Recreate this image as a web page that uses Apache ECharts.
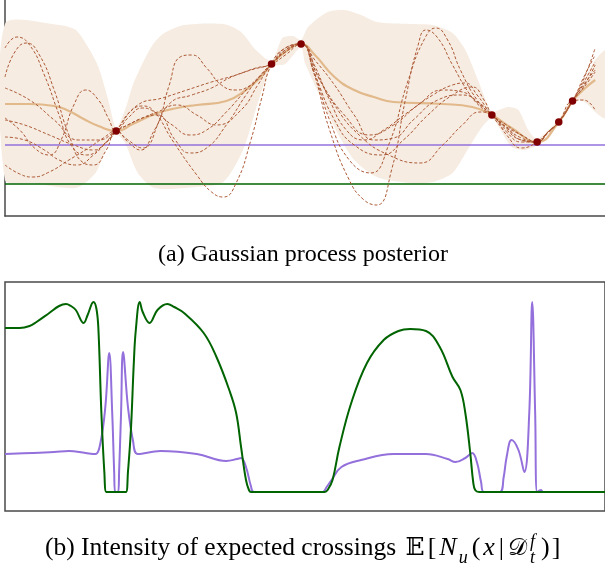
<!DOCTYPE html>
<html>
<head>
<meta charset="utf-8">
<script src="https://cdn.jsdelivr.net/npm/echarts@6/dist/echarts.min.js"></script>
<style>
html, body { margin: 0; padding: 0; background: #fff; }
#chart { width: 605px; height: 573px; }
</style>
</head>
<body>
<div id="chart"></div>
<script>
// x runs 0..610 across both panels, top panel y 0..21.6, bottom panel y -1.9..21

// (a) GP posterior
var levelPurple = 7.1;
var levelGreen = 3.2;

var observations = [[113, 8.5], [271, 15.2], [301, 17.2], [495, 10.1], [541, 7.4], [563, 9.4], [577, 11.5]];

var posteriorMean = [[0, 11.2], [25, 11.2], [50, 11.0], [65, 10.5], [80, 9.7], [95, 9.0], [113, 8.5], [130, 9.2],
    [155, 10.3], [175, 10.8], [195, 11.1], [225, 11.5], [245, 12.6], [260, 13.9], [271, 15.2], [285, 16.4],
    [301, 17.2], [315, 16.1], [335, 13.9], [355, 12.6], [375, 11.9], [395, 11.4], [445, 11.2], [475, 10.9],
    [495, 10.1], [515, 8.8], [541, 7.4], [563, 9.4], [577, 11.5], [590, 12.8], [600, 13.6]];

var bandUpper = [[0, 19.2], [55, 19.1], [72, 18.6], [85, 16.8], [95, 14.9], [105, 11.6], [113, 8.8], [122, 10.6],
    [130, 13.1], [138, 14.9], [150, 17.1], [162, 18.3], [182, 19.1], [222, 19.2], [240, 18.4], [255, 16.6],
    [271, 15.5], [282, 17.8], [293, 18.0], [301, 17.6], [308, 18.9], [328, 20.4], [345, 20.6], [362, 20.1],
    [378, 19.4], [412, 19.2], [435, 19.1], [455, 18.3], [468, 16.6], [482, 13.3], [492, 10.8], [496, 10.4],
    [502, 10.6], [512, 10.9], [522, 10.6], [532, 8.6], [541, 7.7], [563, 9.7], [577, 11.8], [585, 13.0],
    [593, 14.4], [600, 15.6], [610, 16.5]];

var bandLower = [[0, 3.6], [28, 3.3], [72, 2.8], [92, 4.3], [105, 7.3], [113, 8.2], [122, 7.3], [135, 4.3],
    [152, 2.8], [195, 2.9], [222, 3.4], [242, 6.6], [258, 11.6], [271, 14.9], [285, 15.2], [301, 16.9],
    [305, 15.3], [322, 11.6], [338, 8.3], [355, 5.6], [378, 3.9], [412, 3.3], [435, 3.4], [455, 4.3],
    [472, 6.9], [485, 8.9], [495, 9.8], [502, 8.9], [515, 6.9], [528, 6.6], [538, 6.9], [541, 7.1],
    [563, 9.1], [577, 11.2], [585, 11.6], [593, 11.1], [600, 10.4], [610, 9.8]];

var sample1 = [[0, 16.8], [12, 17.9], [25, 17.1], [40, 14.1], [55, 10.1], [67, 7.1], [83, 6.1], [100, 7.1],
    [113, 8.5], [127, 10.4], [140, 11.0], [152, 10.4], [170, 7.6], [195, 4.1], [210, 2.4], [222, 1.9],
    [235, 3.3], [250, 7.6], [261, 11.8], [271, 15.2], [285, 16.8], [301, 17.2], [313, 14.6], [330, 8.6],
    [350, 3.6], [365, 1.6], [378, 1.1], [393, 4.6], [407, 11.6], [420, 17.1], [428, 18.6], [440, 17.8],
    [455, 15.1], [473, 12.1], [487, 10.6], [495, 10.1], [510, 8.6], [525, 7.6], [541, 7.4], [552, 8.3],
    [563, 9.4], [577, 11.5], [588, 13.1], [600, 14.6]];
var sample2 = [[0, 13.9], [10, 16.4], [22, 17.3], [35, 16.1], [50, 12.6], [65, 8.1], [80, 5.3], [90, 5.1],
    [103, 6.6], [113, 8.5], [125, 7.6], [140, 6.8], [155, 9.1], [167, 13.1], [178, 15.9], [190, 16.1],
    [205, 14.8], [220, 13.1], [235, 12.6], [250, 13.1], [261, 14.1], [271, 15.2], [285, 16.8], [301, 17.2],
    [313, 14.8], [330, 9.6], [350, 5.6], [372, 4.3], [390, 7.1], [410, 13.6], [427, 17.8], [438, 18.8],
    [450, 17.6], [463, 14.6], [480, 11.6], [495, 10.1], [510, 9.1], [525, 8.1], [541, 7.4], [552, 8.4],
    [563, 9.4], [577, 11.5], [588, 13.8], [600, 16.1]];
var sample3 = [[0, 9.8], [15, 8.6], [30, 6.8], [45, 6.1], [57, 7.6], [70, 11.1], [82, 12.6], [95, 11.6],
    [105, 9.8], [113, 8.5], [125, 9.8], [140, 10.8], [152, 10.4], [170, 9.1], [188, 8.1], [205, 8.6],
    [225, 10.4], [245, 12.6], [260, 14.1], [271, 15.2], [285, 16.6], [301, 17.2], [313, 15.4], [330, 11.6],
    [347, 8.6], [365, 7.6], [385, 8.6], [410, 10.4], [435, 12.1], [455, 13.1], [468, 13.3], [480, 12.1],
    [495, 10.1], [510, 8.8], [525, 7.8], [541, 7.4], [552, 8.4], [563, 9.4], [577, 11.5], [588, 13.3],
    [600, 15.4]];
var sample4 = [[0, 7.9], [20, 7.6], [40, 6.6], [55, 5.6], [73, 5.1], [90, 6.1], [103, 7.4], [113, 8.5],
    [125, 9.1], [140, 9.8], [155, 10.1], [173, 7.6], [188, 6.3], [205, 6.8], [225, 9.1], [245, 12.1],
    [260, 14.1], [271, 15.2], [285, 16.4], [301, 17.2], [315, 14.1], [335, 9.6], [355, 7.1], [383, 6.1],
    [405, 7.6], [430, 10.1], [455, 12.1], [475, 12.9], [487, 11.6], [495, 10.1], [510, 8.4], [525, 7.4],
    [541, 7.4], [552, 8.4], [563, 9.4], [577, 11.5], [588, 11.6], [600, 10.6]];
var sample5 = [[0, 5.1], [15, 4.2], [28, 3.9], [45, 4.4], [65, 5.6], [85, 6.8], [100, 7.8], [113, 8.5],
    [125, 7.4], [138, 6.6], [152, 8.6], [168, 11.3], [190, 12.1], [210, 12.8], [228, 13.8], [250, 14.6],
    [271, 15.2], [285, 16.1], [301, 17.2], [315, 14.6], [335, 11.1], [360, 8.1], [390, 6.1], [422, 5.3],
    [445, 7.1], [465, 9.1], [483, 10.4], [495, 10.1], [510, 8.1], [525, 6.8], [541, 7.4], [552, 8.4],
    [563, 9.4], [577, 11.5], [588, 13.6], [600, 16.8]];
var sample6 = [[0, 9.6], [20, 9.1], [45, 8.1], [70, 7.1], [90, 6.6], [103, 7.4], [113, 8.5], [135, 11.1],
    [160, 11.8], [185, 12.6], [210, 13.4], [235, 14.1], [255, 14.8], [271, 15.2], [285, 16.6], [301, 17.2],
    [320, 13.6], [345, 10.1], [370, 8.1], [395, 9.1], [420, 11.1], [445, 12.6], [465, 12.4], [483, 11.1],
    [495, 10.1], [510, 8.9], [525, 8.1], [541, 7.4], [552, 8.4], [563, 9.4], [577, 11.5], [588, 12.9],
    [600, 15.1]];
var sample7 = [[0, 12.8], [25, 11.6], [50, 9.6], [75, 7.6], [95, 7.6], [113, 8.5], [135, 9.6], [155, 10.4],
    [175, 11.1], [195, 10.1], [215, 9.1], [240, 10.6], [257, 13.1], [271, 15.2], [285, 16.4], [301, 17.2],
    [315, 15.6], [335, 13.1], [355, 10.1], [375, 7.6], [395, 7.8], [415, 9.6], [440, 11.6], [465, 12.1],
    [485, 11.1], [495, 10.1], [510, 8.8], [525, 7.6], [541, 7.4], [552, 8.4], [563, 9.4], [577, 11.5],
    [588, 12.8], [600, 14.4]];
var samples = [sample1, sample2, sample3, sample4, sample5, sample6, sample7];

// (b) intensity of expected crossings
var crossingsGreen = [[0, 16.4], [15, 16.4], [25, 16.6], [32, 17.0], [45, 17.9], [55, 18.6], [62, 18.8],
    [67, 18.6], [72, 18.2], [80, 16.9], [84, 17.7], [90, 19.0], [93, 18.3], [95, 16.2], [98, 7.9],
    [101, 2.0], [103, 0], [106, 0], [120, 0], [123, 0], [125, 2.0], [128, 6.2], [131, 13.0], [133, 16.2],
    [137, 19.0], [140, 18.0], [147, 16.9], [155, 18.2], [165, 18.8], [172, 18.5], [182, 17.9], [202, 15.9],
    [215, 13.5], [228, 10.2], [235, 7.9], [240, 4.5], [245, 1.2], [248, 0.2], [250, 0], [325, 0],
    [328, 0.2], [333, 1.2], [340, 4.5], [352, 8.9], [368, 12.9], [385, 15.2], [400, 16.1], [412, 16.3],
    [428, 16.1], [442, 14.5], [455, 11.5], [463, 10.2], [468, 7.9], [473, 3.9], [476, 1.0], [478, 0.2],
    [482, 0], [600, 0], [610, 0]];
var crossingsPurple = [[0, 3.8], [28, 3.9], [50, 4.0], [65, 4.1], [82, 3.9], [92, 3.8], [97, 4.9],
    [102, 8.5], [106, 13.9], [109, 7.9], [111, 2.0], [112, 0], [115, 0], [116, 2.0], [118, 7.9], [120, 14.0],
    [125, 8.5], [130, 5.2], [135, 3.8], [158, 4.1], [195, 3.8], [225, 3.1], [236, 3.3], [240, 3.4],
    [245, 2.5], [250, 0.6], [253, 0], [323, 0], [327, 0.5], [332, 1.2], [342, 2.5], [362, 3.2], [395, 3.8],
    [428, 3.8], [450, 3.3], [458, 3.0], [468, 3.4], [475, 3.9], [480, 2.9], [484, 1.0], [487, 0], [503, 0],
    [507, 1.5], [510, 3.5], [515, 5.2], [522, 4.2], [528, 2.0], [533, 7.9], [536, 19.0], [539, 7.9],
    [541, 0], [545, 0.2], [547, 0], [610, 0]];

var frameColor = '#4a4a4a';
var sampleColor = '#ad5a36';

function flatLine(level) { return [[0, level], [610, level]]; }

var series = [
    {
        type: 'custom', xAxisIndex: 0, yAxisIndex: 0, silent: true, z: 1,
        data: [[0, 0]],
        renderItem: function (params, api) {
            var pts = bandUpper.map(function (p) { return api.coord(p); });
            var low = bandLower.slice().reverse().map(function (p) { return api.coord(p); });
            return {
                type: 'polygon',
                shape: { points: pts.concat(low), smooth: 0.25 },
                style: { fill: '#f6ece2' }
            };
        }
    },
    {
        type: 'line', xAxisIndex: 0, yAxisIndex: 0, z: 2, symbol: 'none', data: flatLine(levelPurple),
        lineStyle: { color: '#9370db', width: 1.6 }
    },
    {
        type: 'line', xAxisIndex: 0, yAxisIndex: 0, z: 2, symbol: 'none', data: flatLine(levelGreen),
        lineStyle: { color: '#006400', width: 1.6 }
    },
    {
        type: 'line', xAxisIndex: 0, yAxisIndex: 0, z: 3, symbol: 'none', smooth: 0.5, data: posteriorMean,
        lineStyle: { color: '#e2b98b', width: 2.2 }
    }
];
samples.forEach(function (s) {
    series.push({
        type: 'line', xAxisIndex: 0, yAxisIndex: 0, z: 4, symbol: 'none', smooth: 0.5, data: s,
        lineStyle: { color: sampleColor, width: 1, type: [3, 2] }
    });
});
series.push({
    type: 'scatter', xAxisIndex: 0, yAxisIndex: 0, z: 5, symbolSize: 7.5, data: observations,
    itemStyle: { color: '#800000', opacity: 1 }
});
series.push({
    type: 'line', xAxisIndex: 1, yAxisIndex: 1, z: 3, symbol: 'none', smooth: 0.4, data: crossingsPurple,
    lineStyle: { color: '#9370db', width: 2 }
});
series.push({
    type: 'line', xAxisIndex: 1, yAxisIndex: 1, z: 4, symbol: 'none', smooth: 0.4, data: crossingsGreen,
    lineStyle: { color: '#006400', width: 2 }
});

// caption pieces, measured so they can be laid out one after the other
var ctx = document.createElement('canvas').getContext('2d');
function textWidth(t, font) { ctx.font = font; return ctx.measureText(t).width; }

var serifA = '24px "Liberation Serif"';
var serif = '25.5px "Liberation Serif"';
var math = '26px "Liberation Serif"';
var mathIt = 'italic 26px "Liberation Serif"';
var small = 'italic 18px "Liberation Serif"';
var capB = [
    { t: '(b) Intensity of expected crossings ', f: serif, dy: 0, gap: 3 },
    { t: '\u{1D53C}', f: '25px "DejaVu Serif"', dy: 0, gap: 3 },
    { t: '[', f: math, dy: 0, gap: 3 },
    { t: 'N', f: mathIt, dy: 0, gap: 2 },
    { t: 'u', f: small, dy: 6, gap: 4 },
    { t: '(', f: math, dy: 0, gap: 3 },
    { t: 'x', f: mathIt, dy: 0, gap: 4 },
    { t: '|', f: math, dy: 0, gap: 4 },
    { t: '\u{1D49F}', f: '24px "DejaVu Sans"', dy: 0, gap: 3 },
    { t: 'f', f: small, dy: -10, stack: true },
    { t: 't', f: small, dy: 6, gap: 6 },
    { t: ')', f: math, dy: 0, gap: 2 },
    { t: ']', f: math, dy: 0, gap: 0 }
];
var cx = 45;
var graphics = [{
    type: 'text', x: 303, y: 255,
    style: { text: '(a) Gaussian process posterior', font: serifA, fill: '#000', textAlign: 'center', textVerticalAlign: 'middle' }
}];
capB.forEach(function (p) {
    graphics.push({
        type: 'text', x: cx, y: 561 + p.dy,
        style: { text: p.t, font: p.f, fill: '#000', textAlign: 'left', textVerticalAlign: 'bottom' }
    });
    if (!p.stack) cx += textWidth(p.t, p.f) + p.gap;
});

var option = {
    animation: false,
    backgroundColor: '#fff',
    grid: [
        { left: 5, top: 0, width: 610, height: 216 },
        { left: 5, top: 282, width: 610, height: 229, show: true, borderColor: frameColor, borderWidth: 1.5 }
    ],
    xAxis: [
        {
            type: 'value', gridIndex: 0, min: 0, max: 610,
            axisLine: { show: true, onZero: false, lineStyle: { color: frameColor, width: 1.5 } },
            axisTick: { show: false }, axisLabel: { show: false }, splitLine: { show: false }
        },
        {
            type: 'value', gridIndex: 1, min: 0, max: 610,
            axisLine: { show: false }, axisTick: { show: false }, axisLabel: { show: false }, splitLine: { show: false }
        }
    ],
    yAxis: [
        {
            type: 'value', gridIndex: 0, min: 0, max: 21.6,
            axisLine: { show: true, onZero: false, lineStyle: { color: frameColor, width: 1.5 } },
            axisTick: { show: false }, axisLabel: { show: false }, splitLine: { show: false }
        },
        {
            type: 'value', gridIndex: 1, min: -1.9, max: 21,
            axisLine: { show: false }, axisTick: { show: false }, axisLabel: { show: false }, splitLine: { show: false }
        }
    ],
    graphic: graphics,
    series: series
};

var myChart = echarts.init(document.getElementById('chart'));
myChart.setOption(option);
</script>
</body>
</html>
